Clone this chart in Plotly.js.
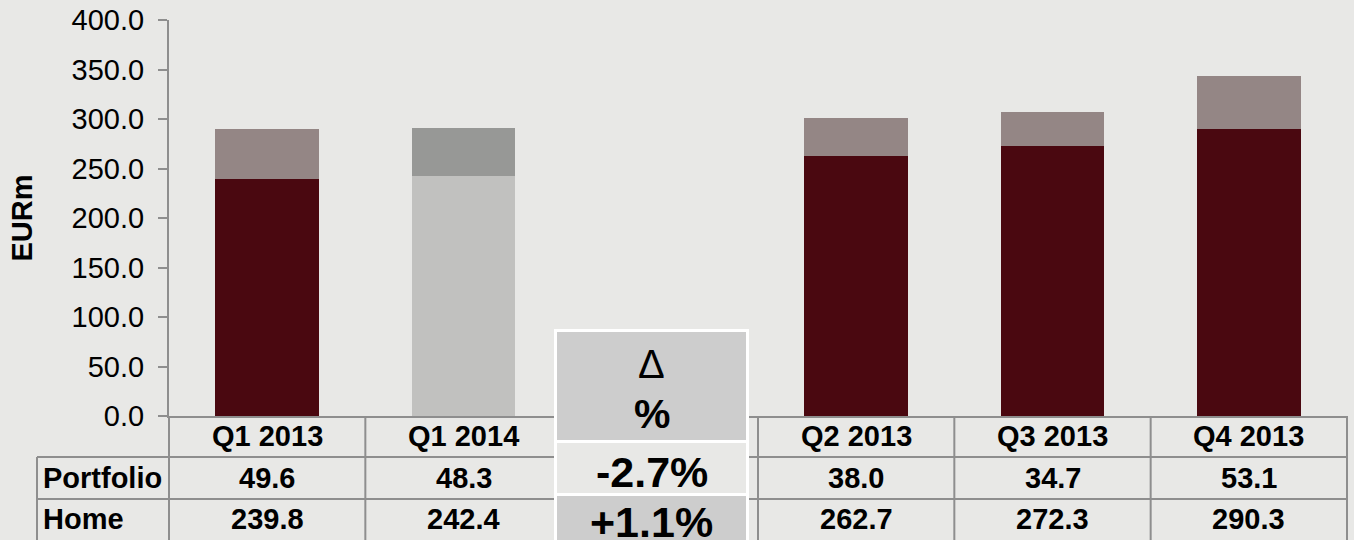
<!DOCTYPE html>
<html>
<head>
<meta charset="utf-8">
<script src="https://cdn.plot.ly/plotly-3.0.1.min.js"></script>
<style>
  html, body { margin: 0; padding: 0; background: #e8e8e6; }
  #chart { width: 1354px; height: 540px; }
</style>
</head>
<body>
<div id="chart"></div>
<script>
// ---- data ----
const categories = ['Q1 2013', 'Q1 2014', 'Q2 2013', 'Q3 2013', 'Q4 2013'];
const deltaSlot = 'Δ %';
const axisOrder = ['Q1 2013', 'Q1 2014', deltaSlot, 'Q2 2013', 'Q3 2013', 'Q4 2013'];
const seriesNames = ['Portfolio', 'Home'];
const portfolio = [49.6, 48.3, 38.0, 34.7, 53.1];
const home = [239.8, 242.4, 262.7, 272.3, 290.3];
const deltaLabels = ['-2.7%', '+1.1%'];
const highlighted = 'Q1 2014';

// ---- styles ----
const BG = '#e8e8e6';
const GRID = '#8e8e8e';
const FONT = 'Liberation Sans, Arial, sans-serif';
const FS = 29;
const homeColors = categories.map(c => c === highlighted ? '#c1c1bf' : '#4a0810');
const portColors = categories.map(c => c === highlighted ? '#979896' : '#948685');

// ---- geometry helpers (pixel -> paper) ----
const FW = 1354, FH = 540;
const L = 169, R = 1347, T = 20, B = 416;
const W = R - L, H = B - T;
const px = X => (X - L) / W;
const py = Y => (B - Y) / H;
const colW = W / axisOrder.length;
const edgeX = i => L + i * colW;

const shapes = [];
function hline(Y, X0, X1) {
  shapes.push({type: 'line', xref: 'paper', yref: 'paper', x0: px(X0), x1: px(X1), y0: py(Y), y1: py(Y),
    line: {color: GRID, width: 2}});
}
function vline(X, Y0, Y1) {
  shapes.push({type: 'line', xref: 'paper', yref: 'paper', x0: px(X), x1: px(X), y0: py(Y0), y1: py(Y1),
    line: {color: GRID, width: 2}});
}
function rect(X0, Y0, X1, Y1, fill) {
  shapes.push({type: 'rect', xref: 'paper', yref: 'paper', x0: px(X0), x1: px(X1), y0: py(Y0), y1: py(Y1),
    line: {width: 0}, fillcolor: fill});
}

// data table grid
hline(457, 37, R);
hline(499, 37, R);
hline(541, 37, R);
vline(37, 457, 545);
for (let i = 0; i <= axisOrder.length; i++) vline(edgeX(i), B, 545);

// delta box
rect(554, 329, 749, 545, '#ffffff');
rect(557, 332, 746, 440, '#cdcdcd');
rect(557, 443, 746, 493, '#e8e8e6');
rect(557, 496, 746, 545, '#cdcdcd');

const annotations = [];
function txt(x, xref, Y, text, size, bold, xanchor) {
  annotations.push({x: x, xref: xref, y: py(Y), yref: 'paper', text: text, showarrow: false,
    xanchor: xanchor || 'center', yanchor: 'middle',
    font: {family: FONT, size: size, color: '#000000', weight: bold ? 'bold' : 'normal'}});
}
categories.forEach((c, i) => {
  txt(c, 'x', 436, c, FS, true);
  txt(c, 'x', 478, portfolio[i].toFixed(1), FS, true);
  txt(c, 'x', 519, home[i].toFixed(1), FS, true);
});
txt(px(41), 'paper', 478, seriesNames[0], FS, true, 'left');
txt(px(41), 'paper', 519, seriesNames[1], FS, true, 'left');
const deltaX = px(651.5);
txt(deltaX, 'paper', 364, 'Δ', 40, false);
txt(deltaX, 'paper', 414, '%', 41, true);
txt(deltaX, 'paper', 472, deltaLabels[0], 43, true);
txt(deltaX, 'paper', 522, deltaLabels[1], 43, true);

const traces = [
  {type: 'bar', name: seriesNames[1], x: categories, y: home,
   marker: {color: homeColors, line: {width: 0}}, hoverinfo: 'x+y'},
  {type: 'bar', name: seriesNames[0], x: categories, y: portfolio,
   marker: {color: portColors, line: {width: 0}}, hoverinfo: 'x+y'}
];

const layout = {
  width: FW, height: FH,
  paper_bgcolor: BG, plot_bgcolor: BG,
  margin: {l: L, r: FW - R, t: T, b: FH - B, pad: 0},
  barmode: 'stack',
  bargap: 0.472,
  showlegend: false,
  font: {family: FONT, color: '#000000'},
  xaxis: {
    type: 'category', categoryorder: 'array', categoryarray: axisOrder,
    range: [-0.5, axisOrder.length - 0.5],
    showticklabels: false, ticks: '', showgrid: false, zeroline: false,
    showline: true, linecolor: GRID, linewidth: 2, fixedrange: true
  },
  yaxis: {
    range: [0, 400], dtick: 50, tick0: 0, tickformat: '.1f',
    ticks: 'outside', ticklen: 9, tickwidth: 2, tickcolor: GRID,
    showline: true, linecolor: GRID, linewidth: 2,
    showgrid: false, zeroline: false,
    ticklabelstandoff: 8,
    tickfont: {family: FONT, size: FS, color: '#000000'},
    title: {text: 'EURm', standoff: 30, font: {family: FONT, size: FS, color: '#000000', weight: 'bold'}},
    automargin: false, fixedrange: true
  },
  shapes: shapes,
  annotations: annotations
};

Plotly.newPlot('chart', traces, layout, {displayModeBar: false, staticPlot: true});
</script>
</body>
</html>
